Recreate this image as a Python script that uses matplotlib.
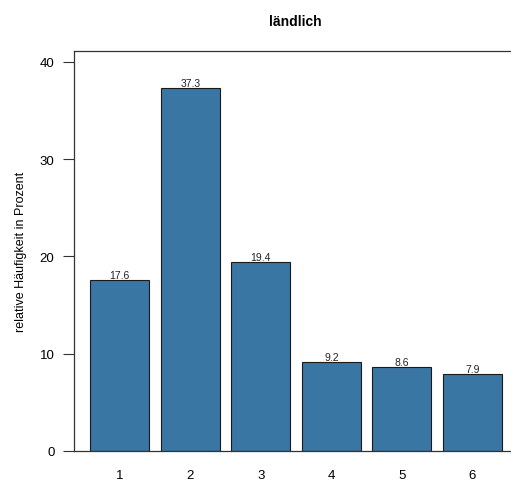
import matplotlib
matplotlib.use("Agg")
import matplotlib.pyplot as plt

categories = ["1", "2", "3", "4", "5", "6"]
values = [17.6, 37.3, 19.4, 9.2, 8.6, 7.9]
yticks = [0, 10, 20, 30, 40]

plt.rcParams['font.family'] = ['Liberation Sans', 'DejaVu Sans']

fig = plt.figure(figsize=(5.11, 4.81), dpi=100)
ax = fig.add_axes([74/511, 29/481, 437/511, 400/481])

x = list(range(1, len(categories) + 1))
ax.bar(x, values, width=0.835, color="#3A76A3", edgecolor="#1a1a1a", linewidth=0.8)
for xi, v in zip(x, values):
    ax.text(xi, v, f"{v:.1f}", ha="center", va="bottom", fontsize=7.5, color="#222222")

ax.set_xlim(0.353, 6.545)
ax.set_ylim(0, 41.13)
ax.set_xticks(x)
ax.set_xticklabels(categories)
ax.set_yticks(yticks)
ax.tick_params(axis="x", length=0, pad=13, labelsize=9.5)
ax.tick_params(axis="y", length=8, width=0.8, color="#333333", pad=6, labelsize=9.5)
for s in ["left", "top", "bottom"]:
    ax.spines[s].set_color("#333333")
    ax.spines[s].set_linewidth(0.9)
ax.spines["right"].set_visible(False)

ax.set_ylabel("relative Häufigkeit in Prozent", fontsize=9, labelpad=9)
fig.text(295/511, 1 - 22/481, "ländlich", ha="center", va="center", fontsize=10, fontweight="bold")

fig.savefig("out.png", dpi=100)
